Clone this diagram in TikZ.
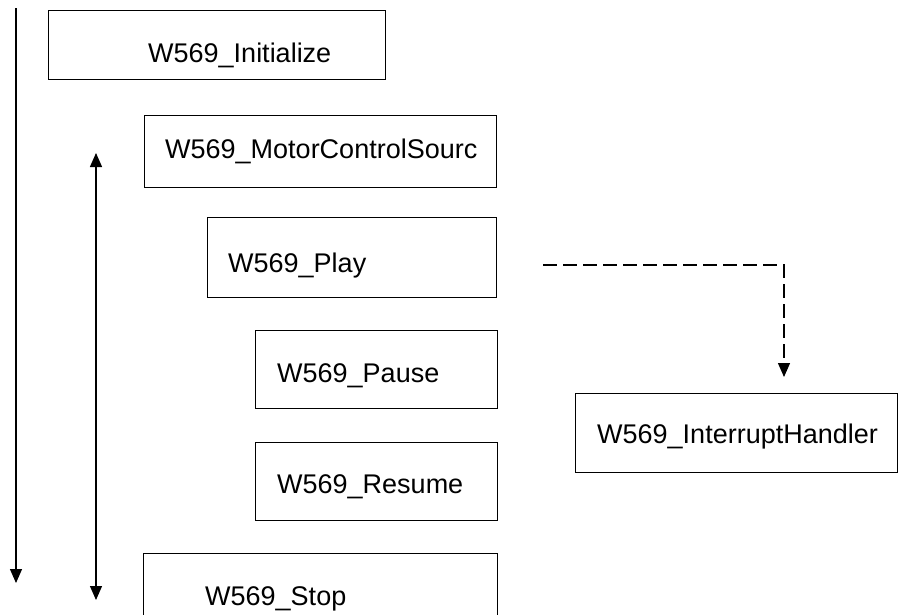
\documentclass[tikz,border=0pt]{standalone}
\usepackage{fontspec}
\setmainfont{Liberation Sans}
\usetikzlibrary{arrows.meta, positioning, calc}

\begin{document}
\begin{tikzpicture}[
    x=1pt, y=-1pt,
    box/.style={
      rectangle, draw=black, line width=1.3pt,
      anchor=north west, inner sep=0pt
    },
    lbl/.style={anchor=base west, inner sep=0pt, font=\fontsize{27}{31}\selectfont},
    arr/.style={-{Triangle[width=12pt, length=14pt]}, line width=1.3pt},
    darr/.style={{Triangle[width=12pt, length=14pt]}-{Triangle[width=12pt, length=14pt]}, line width=1.3pt},
    dasharr/.style={arr, dash pattern=on 14pt off 6pt},
  ]

  \useasboundingbox (0,0) rectangle (900,614);
  \clip (0,0) rectangle (900,614);

  % call boxes
  \node[box, minimum width=337, minimum height=69] (init) at (48,10) {};
  \node[box, minimum width=352, minimum height=72] (motor) at (144,115) {};
  \node[box, minimum width=289, minimum height=80] (play) at (207,217) {};
  \node[box, minimum width=242, minimum height=78] (pause) at (255,330) {};
  \node[box, minimum width=242, minimum height=78] (resume) at (255,442) {};
  \node[box, minimum width=354, minimum height=90] (stop) at (143,553) {};
  \node[box, minimum width=322, minimum height=79] (irq) at (575,393) {};

  \node[lbl] (initT) at (148,62) {W569\_Initialize};
  \node[lbl] (motorT) at (165,158) {W569\_MotorControlSourc};
  \node[lbl] (playT) at (228,272) {W569\_Play};
  \node[lbl] (pauseT) at (277,382) {W569\_Pause};
  \node[lbl] (resumeT) at (277,493) {W569\_Resume};
  \node[lbl] (stopT) at (205,605) {W569\_Stop};
  \node[lbl] (irqT) at (597,443) {W569\_InterruptHandler};

  % arrow ends
  \coordinate (seqtop) at (16,8);
  \coordinate (seqend) at (16,583);
  \coordinate (looptop) at (96,153);
  \coordinate (loopend) at (96,600);
  \coordinate (playcall) at (543,265);
  \coordinate (irqin) at (784,377);

  % Arrows
  \draw[arr] (seqtop) -- (seqend);
  \draw[darr] (looptop) -- (loopend);
  \draw[dasharr] (playcall) -| (irqin);

\end{tikzpicture}
\end{document}
